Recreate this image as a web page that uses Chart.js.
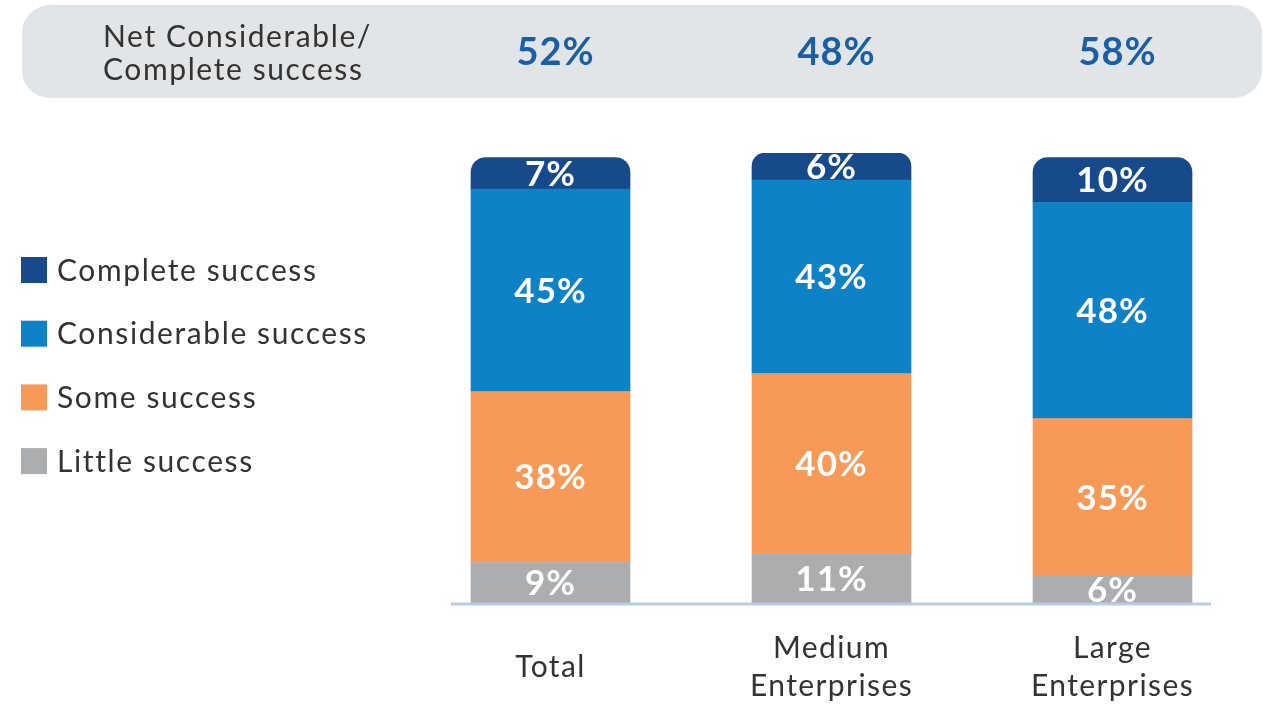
<!DOCTYPE html>
<html>
<head>
<meta charset="utf-8">
<title>Success levels by enterprise size</title>
<script src="https://cdn.jsdelivr.net/npm/chart.js@4/dist/chart.umd.min.js"></script>
<style>
  html, body { margin: 0; padding: 0; background: #fff; overflow: hidden; }
  #chart { display: block; }
</style>
</head>
<body>
<canvas id="chart" width="1263" height="704"></canvas>
<script>
const CATEGORIES = ['Total', ['Medium', 'Enterprises'], ['Large', 'Enterprises']];
const SERIES = ['Little success', 'Some success', 'Considerable success', 'Complete success'];
const LITTLE = [9, 11, 6];
const SOME = [38, 40, 35];
const CONSIDERABLE = [45, 43, 48];
const COMPLETE = [7, 6, 10];
const NET = [52, 48, 58];
const NET_TITLE = ['Net Considerable/', 'Complete success'];

const COLORS = ['#acadaf', '#f79a57', '#0e82c6', '#174a8a'];
const FONT = 'Lato, "Noto Sans", sans-serif';

function roundRect(ctx, x, y, w, h, r) {
  ctx.beginPath();
  ctx.moveTo(x + r, y);
  ctx.arcTo(x + w, y, x + w, y + h, r);
  ctx.arcTo(x + w, y + h, x, y + h, r);
  ctx.arcTo(x, y + h, x, y, r);
  ctx.arcTo(x, y, x + w, y, r);
  ctx.closePath();
}

// header band, legend, baseline and value labels
const decorations = {
  id: 'decorations',
  beforeDraw(chart) {
    const ctx = chart.ctx;
    const xs = chart.scales.x;
    ctx.save();
    ctx.fillStyle = '#e2e5e8';
    roundRect(ctx, 22, 5, 1240, 93, 28);
    ctx.fill();

    ctx.letterSpacing = '1.6px';
    ctx.fillStyle = '#333';
    ctx.font = '30px ' + FONT;
    ctx.textAlign = 'left';
    ctx.textBaseline = 'middle';
    ctx.fillText(NET_TITLE[0], 103, 37);
    ctx.fillText(NET_TITLE[1], 103, 70);

    ctx.letterSpacing = '1px';
    ctx.fillStyle = '#1a5ea6';
    ctx.font = 'bold 38px ' + FONT;
    ctx.textAlign = 'center';
    NET.forEach((v, i) => {
      ctx.fillText(v + '%', xs.getPixelForValue(i) + 5, 53);
    });

    // legend, top series first
    ctx.letterSpacing = '1.6px';
    ctx.font = '30px ' + FONT;
    ctx.textAlign = 'left';
    for (let k = 0; k < SERIES.length; k++) {
      const di = SERIES.length - 1 - k;
      const cy = 270 + k * 63.7;
      ctx.fillStyle = COLORS[di];
      ctx.fillRect(21, cy - 13, 26, 26);
      ctx.fillStyle = '#333';
      ctx.fillText(SERIES[di], 57, cy + 1);
    }
    ctx.restore();
    // wider tracking for the category tick labels
    ctx.letterSpacing = '1.4px';
  },
  afterDatasetsDraw(chart) {
    const ctx = chart.ctx;
    const ys = chart.scales.y;
    ctx.save();
    ctx.strokeStyle = '#b5cde6';
    ctx.lineWidth = 3;
    ctx.beginPath();
    ctx.moveTo(451, ys.bottom + 1);
    ctx.lineTo(1211, ys.bottom + 1);
    ctx.stroke();

    ctx.letterSpacing = '1px';
    ctx.fillStyle = '#fff';
    ctx.font = 'bold 35px ' + FONT;
    ctx.textAlign = 'center';
    ctx.textBaseline = 'middle';
    chart.data.datasets.forEach((ds, di) => {
      chart.getDatasetMeta(di).data.forEach((bar, i) => {
        const p = bar.getProps(['x', 'y', 'base'], true);
        ctx.fillText(ds.data[i] + '%', p.x, (p.y + p.base) / 2 + 1);
      });
    });
    ctx.restore();
  }
};

const datasets = [LITTLE, SOME, CONSIDERABLE, COMPLETE].map((vals, i) => ({
  label: SERIES[i],
  data: vals,
  backgroundColor: COLORS[i],
  borderWidth: 0,
  barThickness: 159,
  borderSkipped: i === 3 ? false : 'start',
  borderRadius: i === 3 ? { topLeft: 15, topRight: 15, bottomLeft: 0, bottomRight: 0 } : 0
}));

new Chart(document.getElementById('chart'), {
  type: 'bar',
  data: { labels: CATEGORIES, datasets },
  options: {
    responsive: false,
    animation: false,
    events: [],
    layout: { padding: { left: 410, right: 10, top: 153, bottom: 0 } },
    plugins: { legend: { display: false }, tooltip: { enabled: false } },
    scales: {
      x: {
        stacked: true,
        grid: { display: false },
        border: { display: false },
        afterFit(scale) { scale.height = 101; },
        ticks: {
          color: '#333',
          font: { family: FONT, size: 30, lineHeight: 1.27 },
          padding: 37,
          crossAlign: 'center',
          autoSkip: false,
          maxRotation: 0
        }
      },
      y: {
        stacked: true,
        display: false,
        min: 0,
        max: 100
      }
    }
  },
  plugins: [decorations]
});
</script>
</body>
</html>
